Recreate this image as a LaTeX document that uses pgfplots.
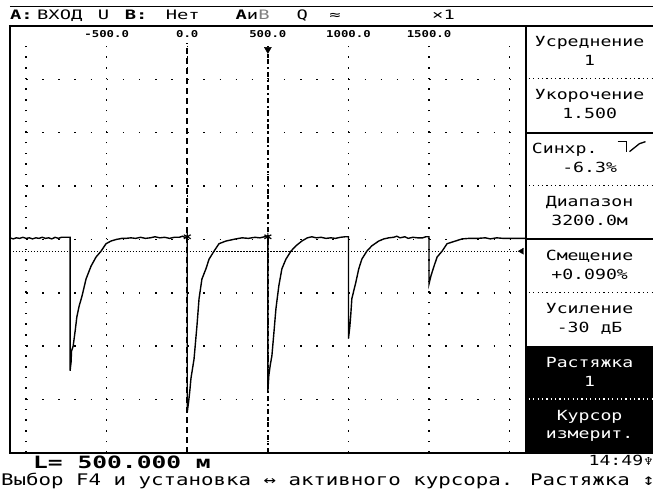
\documentclass[border=0pt]{standalone}
\usepackage{pgfplots}
\pgfplotsset{compat=1.18}
\usepackage{fontspec}
\newfontfamily\lcd[FakeStretch=1.3]{DejaVu Sans Mono}
\newfontfamily\lcdw[FakeStretch=1.45]{DejaVu Sans Mono}
\newfontfamily\sym{DejaVu Sans}
\begin{document}
\begin{tikzpicture}[x=1pt,y=1pt]
\fill[white] (0,0) rectangle (655,492);
\begin{axis}[
  at={(10pt,38pt)}, anchor=south west, scale only axis,
  width=517pt, height=428pt,
  xmin=-1100, xmax=2100, ymin=0, ymax=8,
  axis line style={line width=2pt},
  xtick={-1000,-500,...,2000}, xticklabels={},
  ytick={1,...,7}, yticklabels={},
  major tick length=0pt,
  grid=major,
  x grid style={black, line width=1.5pt, dash pattern=on 1.5pt off 9.2pt},
  y grid style={black, line width=1.5pt, dash pattern=on 1.5pt off 14.656pt},
]
\fill[white] (axis cs:-1092,7.63) rectangle (axis cs:2092,7.99);
% offset marker line
\addplot[black, line width=1.2pt, dash pattern=on 1.2pt off 1.8pt] coordinates {(-1100,3.78) (2100,3.78)};
% cursors
\addplot[black, line width=1.8pt, dash pattern=on 6pt off 4pt] coordinates {(0,0) (0,7.68)};
\addplot[black, line width=1.8pt, dash pattern=on 5pt off 3pt on 2pt off 3pt] coordinates {(500,0) (500,7.5)};
\addplot[only marks, mark=triangle*, mark size=4pt, mark options={rotate=180, fill=black, draw=black}] coordinates {(500,7.56)};
\addplot[only marks, mark=triangle*, mark size=3.5pt, mark options={rotate=90, fill=black, draw=black}] coordinates {(2075,3.78)};
% trace
\addplot[black, line width=1.4pt] coordinates {
(-1100,4.03) (-1080,4.01) (-1060,4.03) (-1040,4.02) (-1020,4.04) (-1000,4.02) (-980,4.03) (-960,4.01) (-940,4.03) (-920,4.02) (-900,4.04) (-880,4.02) (-860,4.03) (-840,4.01) (-820,4.04) (-800,4.02) (-780,4.04) (-760,4.04) (-740,4.04) (-727,4.04)
(-727,1.54) (-721,1.70) (-718,1.91) (-708,2.0) (-695,2.30) (-685,2.55) (-671,2.75) (-653,2.94) (-628,3.26) (-597,3.50) (-566,3.67) (-535,3.78) (-504,3.92) (-473,3.97) (-440,4.00) (-405,4.02)
(-380,4.02) (-350,4.03) (-320,4.02) (-290,4.04) (-260,4.02) (-230,4.03) (-200,4.05) (-170,4.03) (-140,4.04) (-110,4.02) (-80,4.04) (-50,4.04) (-30,4.06) (-15,4.04) (0,4.04)
(0,0.77) (8,0.95) (15,1.14) (23,1.40) (42,1.76) (60,2.38) (73,2.89) (91,3.26) (116,3.45) (135,3.63) (166,3.78) (197,3.92) (240,3.97) (302,4.01) (340,4.03) (380,4.02) (420,4.04) (450,4.03) (480,4.05) (500,4.05)
(500,1.16) (506,1.45) (515,1.65) (525,1.82) (538,2.27) (550,2.70) (568,3.13) (587,3.45) (612,3.63) (643,3.78) (674,3.88) (711,3.97) (745,4.03) (773,4.05) (800,4.03) (830,4.04) (860,4.02) (890,4.03) (920,4.02) (950,4.04) (980,4.05) (1000,4.05)
(1000,2.14) (1008,2.35) (1014,2.57) (1021,2.89) (1046,3.20) (1064,3.45) (1083,3.63) (1114,3.78) (1145,3.88) (1188,3.97) (1220,4.01) (1250,4.03) (1280,4.04) (1300,4.06) (1320,4.03) (1350,4.05) (1370,4.02) (1400,4.04) (1430,4.03) (1460,4.03) (1480,4.05) (1500,4.05)
(1500,3.17) (1512,3.32) (1531,3.50) (1550,3.67) (1581,3.78) (1612,3.92) (1643,3.95) (1705,4.01) (1750,4.02) (1800,4.02) (1850,4.03) (1880,4.01) (1920,4.03) (1960,4.02) (2000,4.02) (2050,4.02) (2100,4.02)
};
\addplot[only marks, mark=asterisk, mark size=4pt, line width=1.2pt, black] coordinates {(0,4.05) (500,4.05)};
% distance labels
\node[font=\lcd\bfseries\fontsize{9.5}{10}\selectfont, fill=white, inner sep=1pt] at (axis cs:-500,7.84) {-500.0};
\node[font=\lcd\bfseries\fontsize{9.5}{10}\selectfont, fill=white, inner sep=1pt] at (axis cs:0,7.84) {0.0};
\node[font=\lcd\bfseries\fontsize{9.5}{10}\selectfont, fill=white, inner sep=1pt] at (axis cs:500,7.84) {500.0};
\node[font=\lcd\bfseries\fontsize{9.5}{10}\selectfont, fill=white, inner sep=1pt] at (axis cs:1000,7.84) {1000.0};
\node[font=\lcd\bfseries\fontsize{9.5}{10}\selectfont, fill=white, inner sep=1pt] at (axis cs:1500,7.84) {1500.0};
\end{axis}
% frame lines
\draw[line width=1pt] (10,485) -- (655,485);
\draw[line width=2pt] (9,466) -- (655,466);
\draw[line width=2pt] (10,467) -- (10,37);
\draw[line width=2pt] (527,466) -- (527,38);
\draw[line width=2pt] (9,38) -- (655,38);
% header
\begin{scope}[every node/.style={anchor=base west, inner sep=0pt, font=\lcdw\fontsize{13}{15}\selectfont}]
\node at (10,472) {\bfseries A:};
\node at (37,472) {ВХОД};
\node at (98,472) {U};
\node at (125,472) {\bfseries B:};
\node at (166,472) {Нет};
\node at (236,472) {\bfseries А\mdseries и\textcolor{gray}{В}};
\node at (297,472) {Q};
\node at (330,472) {≈};
\node at (433,472) {×1};
\end{scope}
% right panel
\draw[line width=2pt] (527,359) -- (655,359);
\draw[line width=2pt] (527,252) -- (655,252);
\foreach \yy in {413,306,199} {\draw[line width=1.2pt, dash pattern=on 1.2pt off 3.2pt] (530,\yy) -- (655,\yy);}
\fill[black] (526,145) rectangle (655,38);
\draw[white, line width=1.2pt, dash pattern=on 1.2pt off 3.2pt] (530,92) -- (655,92);
\begin{scope}[every node/.style={anchor=base, inner sep=0pt, font=\lcd\fontsize{14}{16}\selectfont}]
\node at (591,445) {Усреднение};
\node at (591,426) {1};
\node at (591,392) {Укорочение};
\node at (591,373) {1.500};
\node[anchor=base west] at (533,338) {Синхр.};
\node at (591,319) {-6.3\%};
\node at (591,285) {Диапазон};
\node at (591,266) {3200.0м};
\node at (591,231) {Смещение};
\node at (591,212) {+0.090\%};
\node at (591,178) {Усиление};
\node at (591,159) {-30 дБ};
\node[text=white] at (591,124) {Растяжка};
\node[text=white] at (591,105) {1};
\node[text=white] at (591,71) {Курсор};
\node[text=white] at (591,52) {измерит.};
\end{scope}
\draw[line width=1.3pt] (619,350) -- (628,350) -- (628,340);
\draw[line width=1.3pt] (631,340) -- (641,348) -- (647,350);
% bottom rows
\node[anchor=base west, inner sep=0pt, font=\lcdw\bfseries\fontsize{17}{19}\selectfont] at (33,22) {L= 500.000 м};
\node[anchor=base east, inner sep=0pt, font=\lcd\fontsize{14}{16}\selectfont] at (645,25) {14:49};
\node[anchor=base west, inner sep=0pt, font=\sym\fontsize{11}{12}\selectfont] at (645,25) {♆};
\node[anchor=base west, inner sep=0pt, font=\lcd\fontsize{16}{18}\selectfont] at (1,5) {Выбор F4 и установка ↔ активного курсора. Растяжка ↕};
\end{tikzpicture}
\end{document}
